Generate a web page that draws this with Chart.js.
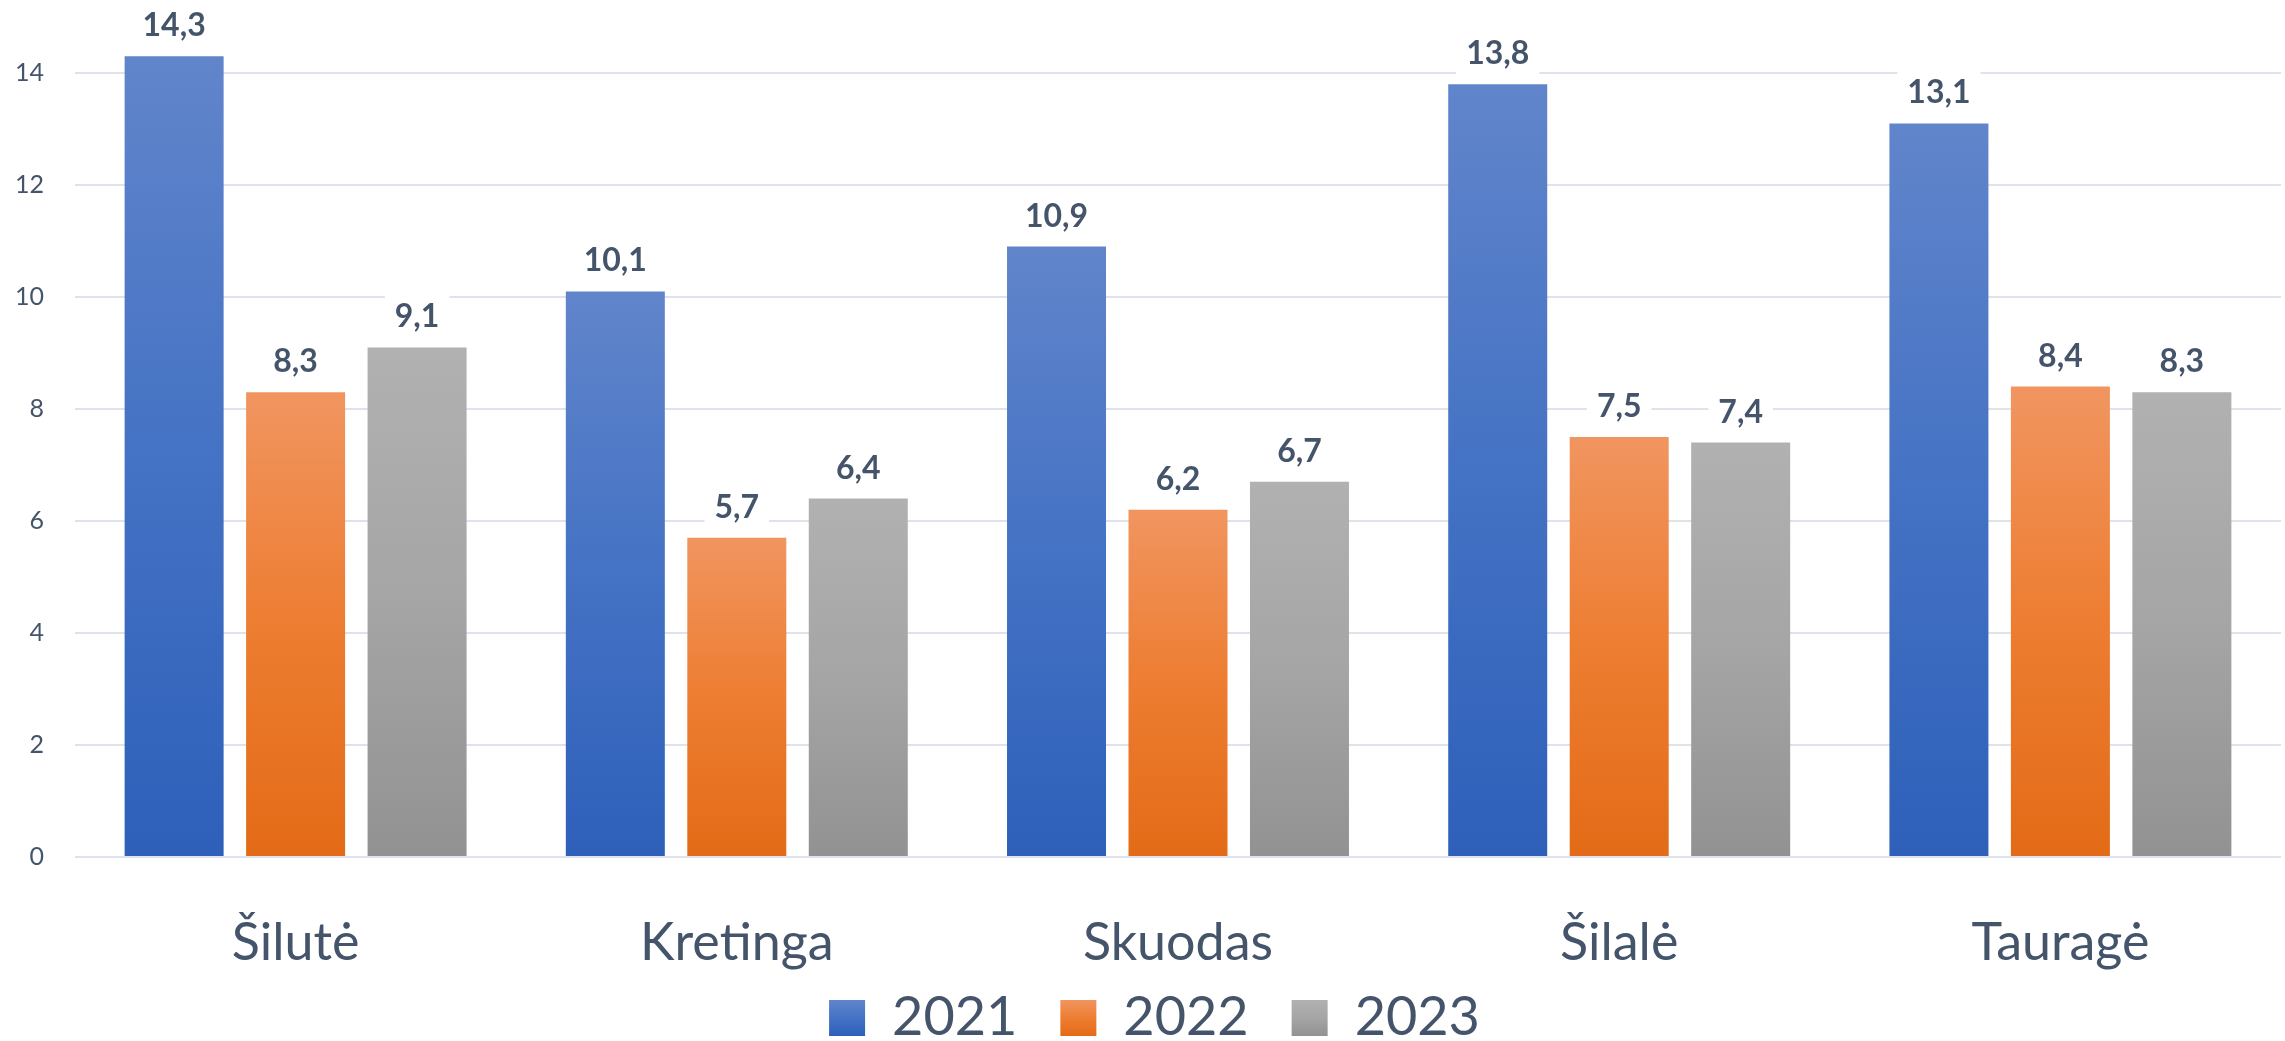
<!DOCTYPE html>
<html><head><meta charset="utf-8">
<script src="https://cdn.jsdelivr.net/npm/chart.js@4.4.0/dist/chart.umd.min.js"></script>
<style>html,body{margin:0;padding:0;background:#fff;overflow:hidden}canvas{display:block}</style>
</head><body>
<canvas id="c" width="2285" height="1041"></canvas>
<script>
const categories = ['Šilutė', 'Kretinga', 'Skuodas', 'Šilalė', 'Tauragė'];
const seriesNames = ['2021', '2022', '2023'];
const values2021 = [14.3, 10.1, 10.9, 13.8, 13.1];
const values2022 = [8.3, 5.7, 6.2, 7.5, 8.4];
const values2023 = [9.1, 6.4, 6.7, 7.4, 8.3];
const yTicks = [0, 2, 4, 6, 8, 10, 12, 14];

const TEXT = '#44546A';
const FONT = 'Lato, "Noto Sans", sans-serif';
const palettes = [
  ['#6185CB', '#4472C4', '#2E60BA'],
  ['#F19560', '#ED7D31', '#E36B17'],
  ['#B1B1B1', '#A5A5A5', '#929292']
];

function barGradient(i) {
  return function (ctx) {
    const chart = ctx.chart;
    const pal = palettes[i];
    if (ctx.type !== 'data' || !chart.scales || !chart.scales.y) return pal[1];
    const ys = chart.scales.y;
    const top = ys.getPixelForValue(ctx.raw);
    const bottom = ys.getPixelForValue(0);
    if (!isFinite(top) || !isFinite(bottom) || top === bottom) return pal[1];
    const g = chart.ctx.createLinearGradient(0, top, 0, bottom);
    g.addColorStop(0, pal[0]);
    g.addColorStop(0.5, pal[1]);
    g.addColorStop(1, pal[2]);
    return g;
  };
}

const seriesValues = [values2021, values2022, values2023];
const datasets = seriesNames.map((name, i) => ({
  label: name,
  data: seriesValues[i],
  backgroundColor: barGradient(i),
  borderWidth: 0,
  barPercentage: 0.815,
  categoryPercentage: 0.826
}));

const valueLabels = {
  id: 'valueLabels',
  afterDatasetsDraw(chart) {
    const ctx = chart.ctx;
    ctx.save();
    ctx.font = 'bold 32px ' + FONT;
    ctx.textAlign = 'center';
    ctx.textBaseline = 'alphabetic';
    chart.data.datasets.forEach((ds, i) => {
      const meta = chart.getDatasetMeta(i);
      meta.data.forEach((bar, j) => {
        const txt = ds.data[j].toFixed(1).replace('.', ',');
        const w = ctx.measureText(txt).width;
        const base = bar.y - 20;
        ctx.fillStyle = '#ffffff';
        ctx.fillRect(bar.x - w / 2 - 10, base - 32, w + 20, 44);
        ctx.fillStyle = TEXT;
        ctx.fillText(txt, bar.x, base);
      });
    });
    ctx.restore();
  }
};

const legendShift = {
  id: 'legendShift',
  afterLayout(chart) {
    const lg = chart.legend;
    if (!lg) return;
    lg.top -= 29;
    lg.left += 14; lg.right += 14;
  }
};

new Chart(document.getElementById('c'), {
  type: 'bar',
  data: { labels: categories, datasets: datasets },
  options: {
    responsive: false,
    animation: false,
    devicePixelRatio: 1,
    layout: { padding: { top: 17, right: 4, left: 0, bottom: 0 } },
    scales: {
      x: {
        grid: { display: false, drawTicks: false },
        border: { display: false },
        ticks: { color: TEXT, font: { family: FONT, size: 52 }, padding: 55 },
        afterFit(s) { s.height = 120; }
      },
      y: {
        min: 0,
        max: 15,
        grid: { color: '#DEE2EA', lineWidth: 2, drawTicks: true, tickLength: 29, tickColor: 'rgba(0,0,0,0)' },
        border: { display: false },
        ticks: { color: TEXT, font: { family: FONT, size: 25 }, padding: 2 },
        afterBuildTicks(s) { s.ticks = yTicks.map(v => ({ value: v })); },
        afterFit(s) { s.width = 75; }
      }
    },
    plugins: {
      tooltip: { enabled: false },
      legend: {
        position: 'bottom',
        maxHeight: 64,
        labels: {
          color: TEXT,
          font: { family: FONT, size: 54 },
          boxWidth: 36,
          boxHeight: 36,
          padding: 43,
          generateLabels(chart) {
            const items = Chart.defaults.plugins.legend.labels.generateLabels(chart);
            items.forEach((it, i) => {
              const g = chart.ctx.createLinearGradient(0, 1000, 0, 1036);
              g.addColorStop(0, palettes[i][0]);
              g.addColorStop(0.5, palettes[i][1]);
              g.addColorStop(1, palettes[i][2]);
              it.fillStyle = g;
              it.lineWidth = 0;
              it.strokeStyle = 'rgba(0,0,0,0)';
            });
            return items;
          }
        }
      }
    }
  },
  plugins: [valueLabels, legendShift]
});
</script>
</body></html>
